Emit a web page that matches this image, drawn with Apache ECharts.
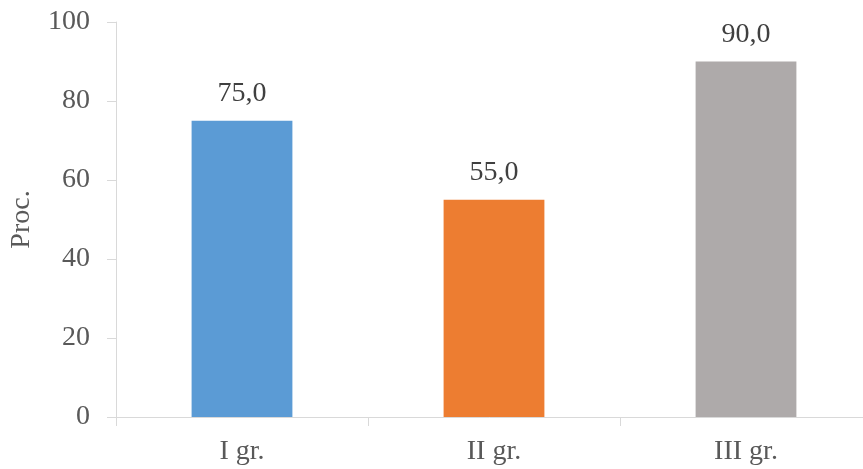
<!DOCTYPE html>
<html><head><meta charset="utf-8">
<script src="https://cdn.jsdelivr.net/npm/echarts@6/dist/echarts.min.js"></script>
<style>html,body{margin:0;padding:0;background:#fff}#c{width:863px;height:469px}</style>
</head><body><div id="c"></div>
<script>
const categories = ['I gr.', 'II gr.', 'III gr.'];
const values = [75.0, 55.0, 90.0];
const barColors = ['#5B9BD5', '#ED7D31', '#AEAAAA'];
const yTicks = [0, 20, 40, 60, 80, 100];

const font = 'Liberation Serif, Times New Roman, serif';
const chart = echarts.init(document.getElementById('c'), null, {renderer: 'canvas'});
chart.setOption({
  animation: false,
  grid: {left: 116, right: -9, top: 22, bottom: 52, containLabel: false, outerBoundsMode: 'none'},
  xAxis: {
    type: 'category', data: categories,
    axisLine: {lineStyle: {color: '#D9D9D9', width: 1}},
    axisTick: {show: true, length: 9, lineStyle: {color: '#D9D9D9'}},
    axisLabel: {color: '#595959', fontFamily: font, fontSize: 28, margin: 21}
  },
  yAxis: {
    type: 'value', min: yTicks[0], max: yTicks[yTicks.length - 1], interval: 20,
    name: 'Proc.', nameLocation: 'middle', nameGap: 80, nameRotate: 90,
    nameTextStyle: {color: '#595959', fontFamily: font, fontSize: 28},
    axisLine: {show: true, lineStyle: {color: '#D9D9D9', width: 1}},
    axisTick: {show: true, length: 9, lineStyle: {color: '#D9D9D9'}},
    splitLine: {show: false},
    axisLabel: {color: '#595959', fontFamily: font, fontSize: 28, margin: 26}
  },
  series: [{
    type: 'bar', barWidth: '40%',
    data: values.map((v, i) => ({value: v, itemStyle: {color: barColors[i]}})),
    label: {
      show: true, position: 'top', distance: 13,
      color: '#404040', fontFamily: font, fontSize: 28,
      formatter: p => p.value.toFixed(1).replace('.', ',')
    }
  }]
});
</script></body></html>
